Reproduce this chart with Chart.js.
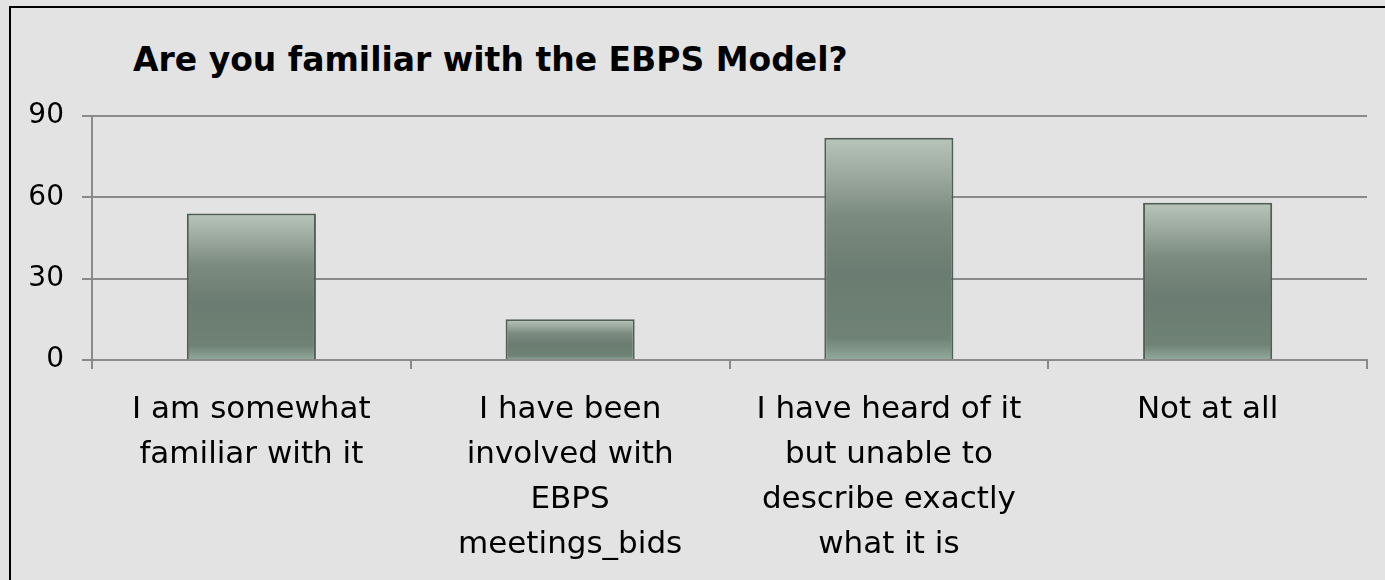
<!DOCTYPE html>
<html>
<head>
<meta charset="utf-8">
<script src="https://cdn.jsdelivr.net/npm/chart.js@4/dist/chart.umd.min.js"></script>
<style>
  html, body { margin: 0; padding: 0; background: #e3e3e3; overflow: hidden; }
  #marco { position: absolute; left: 9px; top: 6px; width: 1400px; height: 600px; border: 2px solid #000; box-sizing: border-box; }
  #titulo { position: absolute; left: 133px; top: 40px; font: bold 33px "DejaVu Sans", sans-serif; color: #000; white-space: nowrap; }
  #wrap { position: absolute; left: 0; top: 0; width: 1385px; height: 580px; }
</style>
</head>
<body>
<div id="marco"></div>
<div id="titulo">Are you familiar with the EBPS Model?</div>
<div id="wrap"><canvas id="grafica"></canvas></div>
<script>
/* ============ DATOS ============ */
const categorias = [
  ["I am somewhat", "familiar with it"],
  ["I have been", "involved with", "EBPS", "meetings_bids"],
  ["I have heard of it", "but unable to", "describe exactly", "what it is"],
  ["Not at all"]
];
const respuestas = [54, 15, 82, 58];
const ticksY = [0, 30, 60, 90];

/* ============ DEGRADADO DE BARRAS ============ */
function colorBarra(ctx) {
  const chart = ctx.chart;
  const y = chart.scales.y;
  if (!y || !chart.chartArea) return "#72837a";
  const arriba = y.getPixelForValue(respuestas[ctx.dataIndex]);
  const abajo = y.getPixelForValue(0);
  if (!isFinite(arriba) || !isFinite(abajo) || arriba === abajo) return "#72837a";
  const g = chart.ctx.createLinearGradient(0, arriba, 0, abajo);
  g.addColorStop(0, "#b8c5bb");
  g.addColorStop(0.35, "#7c8b80");
  g.addColorStop(0.6, "#6b7c72");
  g.addColorStop(0.9, "#6f8275");
  g.addColorStop(1, "#92a99b");
  return g;
}

/* ============ GRÁFICA ============ */
new Chart(document.getElementById("grafica"), {
  type: "bar",
  data: {
    labels: categorias,
    datasets: [{
      data: respuestas,
      backgroundColor: colorBarra,
      borderColor: "#4f5f55",
      borderWidth: 2,
      barPercentage: 0.405,
      categoryPercentage: 1
    }]
  },
  options: {
    responsive: true,
    maintainAspectRatio: false,
    animation: false,
    layout: { padding: { top: 116, right: 18, left: 0, bottom: 0 } },
    plugins: {
      legend: { display: false },
      tooltip: { enabled: false }
    },
    scales: {
      x: {
        grid: {
          drawOnChartArea: false,
          drawTicks: true,
          tickLength: 9,
          color: "#8a8a8a",
          lineWidth: 2
        },
        border: { color: "#8a8a8a", width: 2 },
        ticks: {
          color: "#000",
          padding: 18,
          maxRotation: 0,
          autoSkip: false,
          font: { family: "DejaVu Sans", size: 31, lineHeight: 1.452 }
        },
        afterFit: s => { s.height = 220; }
      },
      y: {
        min: 0,
        max: 90,
        afterBuildTicks: s => { s.ticks = ticksY.map(v => ({ value: v })); },
        grid: { color: "#8a8a8a", lineWidth: 2, tickLength: 10 },
        border: { color: "#8a8a8a", width: 2 },
        ticks: {
          color: "#000",
          padding: 18,
          font: { family: "DejaVu Sans", size: 28 }
        },
        afterFit: s => { s.width = 92; }
      }
    }
  }
});
</script>
</body>
</html>
